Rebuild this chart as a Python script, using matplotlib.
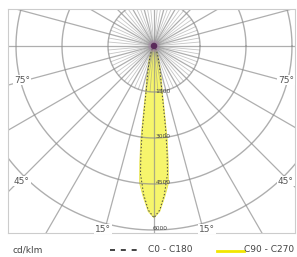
import numpy as np
import matplotlib
matplotlib.use("Agg")
import matplotlib.pyplot as plt

# Data (cd/klm); angle from downward vertical, degrees
angles = [0, 2, 4, 6, 7, 8, 9, 10, 12, 15, 20, 25, 30, 40, 50, 60, 70, 80, 90]
c90_c270 = [5600, 5400, 4950, 4500, 3800, 3100, 2200, 1650, 1200, 800, 480, 260, 140, 45, 15, 8, 5, 3, 0]
c0_c180 = [5600, 5350, 4850, 4200, 3500, 2700, 1900, 1450, 1050, 700, 400, 220, 120, 40, 14, 7, 4, 2, 0]
ring_values = [1500, 3000, 4500, 6000]
ring_labels = ["1500", "3000", "4500", "6000"]
angle_labels = ["15°", "45°", "75°"]
legend_unit = "cd/klm"
legend_names = ["C0 - C180", "C90 - C270"]

W, H = 297, 257
fig = plt.figure(figsize=(W / 100, H / 100), dpi=100)

# pixel geometry of the reference
cx, cy = 154, 46
px = 46 / 1500.0  # pixels per cd/klm
left, right, top, bottom = 8, 295, 9, 233
ax = fig.add_axes([left / W, (H - bottom) / H, (right - left) / W, (bottom - top) / H])
ax.set_xlim((left - cx) / px, (right - cx) / px)
ax.set_ylim(-(bottom - cy) / px, (cy - top) / px)
ax.set_xticks([])
ax.set_yticks([])
for s in ax.spines.values():
    s.set_color("#cccccc")
    s.set_linewidth(0.8)


def curve(vals):
    a = np.deg2rad(np.array(angles, dtype=float))
    v = np.array(vals, dtype=float)
    a_full = np.concatenate([-a[::-1], a[1:]])
    v_full = np.concatenate([v[::-1], v[1:]])
    return v_full * np.sin(a_full), -v_full * np.cos(a_full)


# yellow C90-C270
x90, y90 = curve(c90_c270)
ax.fill(x90, y90, color="#f6f56c", zorder=1, lw=0)
ax.plot(x90, y90, color="#e8e455", lw=0.6, zorder=1.5)

# grid
gcol = "#8c8c8c"
R = 20000
for phi in range(0, 360, 15):
    p = np.deg2rad(phi)
    ax.plot([0, R * np.sin(p)], [0, -R * np.cos(p)], color=gcol, lw=0.9, alpha=0.7, zorder=2)
for phi in range(0, 360, 5):
    if phi % 15 == 0:
        continue
    p = np.deg2rad(phi)
    ax.plot([0, 1500 * np.sin(p)], [0, -1500 * np.cos(p)], color=gcol, lw=0.6, alpha=0.5, zorder=2)
t = np.linspace(0, 2 * np.pi, 400)
for r in ring_values:
    ax.plot(r * np.cos(t), r * np.sin(t), color=gcol, lw=1.0, alpha=0.7, zorder=2)

# C0-C180 dashed
x0, y0 = curve(c0_c180)
ax.plot(x0, y0, color="#444444", lw=0.7, ls=(0, (1.5, 2)), zorder=3)

# center spot
ax.scatter([0], [0], s=22, color="#5a2a5a", zorder=4, edgecolors="none")
ax.scatter([0], [0], s=70, color="#b080b0", alpha=0.35, zorder=3.9, edgecolors="none")

# ring labels
for r, lab in zip(ring_values, ring_labels):
    xoff = 9 if r < 6000 else 6
    ax.text(xoff / px, -r + 1.0 / px, lab, fontsize=4.3, color="#444444", ha="center", va="center",
            zorder=5)


def to_data(xp, yp):
    return (xp - cx) / px, -(yp - cy) / px


tcol = "#555555"
for lab, (xl, yl), (xr, yr) in zip(angle_labels,
                                   [(103, 229), (22, 181), (22, 80)],
                                   [(207, 229), (286, 181), (286, 80)]):
    for xp_, yp_ in [(xl, yl), (xr, yr)]:
        dx, dy = to_data(xp_, yp_)
        ax.text(dx, dy, lab, fontsize=6.5, color=tcol, ha="center", va="center", zorder=6,
                bbox=dict(facecolor="white", edgecolor="none", pad=0.6))

# legend (figure pixel coords)
def fx(x):
    return x / W


def fy(y):
    return 1 - y / H


fig.text(fx(12), fy(250), legend_unit, fontsize=6.5, color="#444444", ha="left", va="center")
fig.add_artist(plt.Line2D([fx(110), fx(137)], [fy(250), fy(250)], color="#222222", lw=1.2,
                          ls=(0, (3, 3.5))))
fig.text(fx(148), fy(250), legend_names[0], fontsize=6.5, color="#444444", ha="left", va="center")
fig.add_artist(plt.Line2D([fx(217), fx(244)], [fy(251), fy(251)], color="#f2e600", lw=2))
fig.text(fx(244), fy(250), legend_names[1], fontsize=6.5, color="#444444", ha="left", va="center")

fig.savefig("out.png", dpi=100)
